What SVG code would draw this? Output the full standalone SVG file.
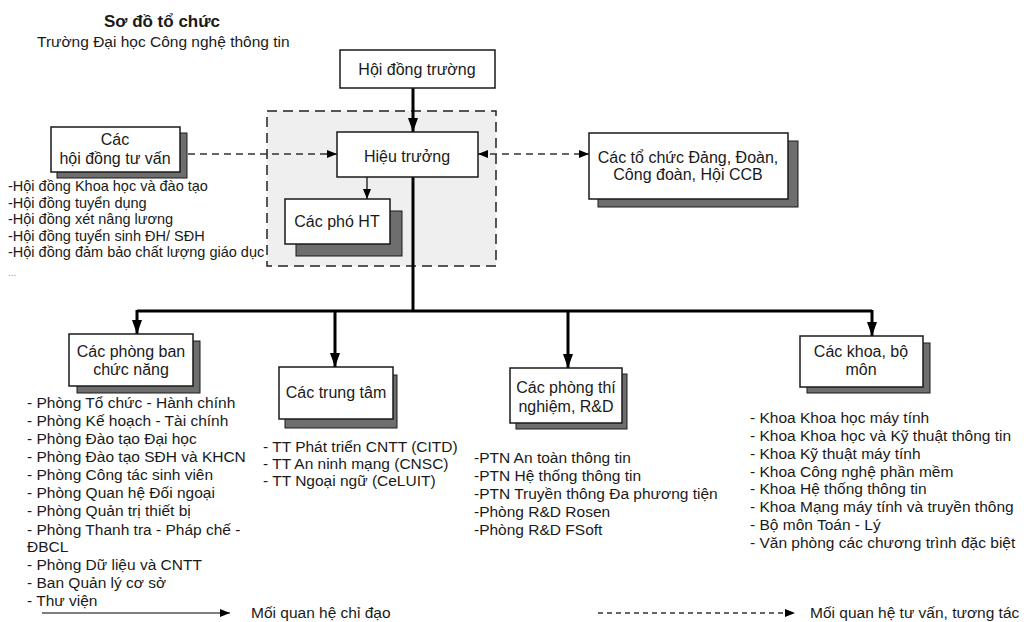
<svg xmlns="http://www.w3.org/2000/svg" width="1024" height="622" viewBox="0 0 1024 622">
<defs>
<style>
text{font-family:"Liberation Sans",Arial,sans-serif;fill:#1a1a1a}
.lbl{font-size:16px;text-anchor:middle}
.lst{font-size:15.5px}
.box{fill:#fff;stroke:#1a1a1a;stroke-width:1.5}
.shd{fill:#6e6e6e;stroke:#1a1a1a;stroke-width:1}
.thick{stroke:#000;stroke-width:3;fill:none}
.thin{stroke:#000;stroke-width:1.2;fill:none}
.dash{stroke:#333;stroke-width:1.3;fill:none;stroke-dasharray:7 5}
</style>
<marker id="ab" markerUnits="userSpaceOnUse" markerWidth="14" markerHeight="10" refX="14" refY="5" orient="auto"><path d="M0,0 L14,5 L0,10 z" fill="#000"/></marker>
<marker id="as" markerUnits="userSpaceOnUse" markerWidth="10" markerHeight="8" refX="10" refY="4" orient="auto-start-reverse"><path d="M0,0 L10,4 L0,8 z" fill="#000"/></marker>
</defs>
<rect width="1024" height="622" fill="#fff"/>

<g id="title">
<text x="162" y="27" style="font-size:17px;font-weight:bold;text-anchor:middle">Sơ đồ tổ chức</text>
<text x="37" y="47" class="lst">Trường Đại học Công nghệ thông tin</text>
</g>

<g id="bgh-region">
<rect x="267" y="111" width="229" height="155" fill="#efefef" stroke="#222" stroke-width="1.5" stroke-dasharray="10 6"/>
</g>

<g id="connectors">
<line class="thick" x1="413" y1="88" x2="413" y2="132" marker-end="url(#ab)"/>
<line class="thin" x1="367" y1="177" x2="367" y2="199" marker-end="url(#as)"/>
<polyline class="thick" points="413,177 413,311"/>
<polyline class="thick" points="137,311 872,311"/>
<line class="thick" x1="137" y1="310" x2="137" y2="334" marker-end="url(#ab)"/>
<line class="thick" x1="335" y1="310" x2="335" y2="367" marker-end="url(#ab)"/>
<line class="thick" x1="568" y1="310" x2="568" y2="368" marker-end="url(#ab)"/>
<line class="thick" x1="872" y1="310" x2="872" y2="336" marker-end="url(#ab)"/>
<line class="dash" x1="188" y1="154" x2="337" y2="154" marker-end="url(#as)"/>
<line class="dash" x1="478" y1="154" x2="589" y2="154" marker-start="url(#as)" marker-end="url(#as)"/>
</g>

<g id="hoi-dong-truong">
<rect class="box" x="340" y="50" width="155" height="38"/>
<text class="lbl" x="417" y="75">Hội đồng trường</text>
</g>

<g id="hieu-truong">
<rect class="box" x="337" y="132" width="141" height="45"/>
<text class="lbl" x="407" y="162">Hiệu trưởng</text>
</g>

<g id="pho-ht">
<rect class="shd" x="296" y="211" width="106" height="45"/>
<rect class="box" x="285" y="199" width="105" height="45"/>
<text class="lbl" x="337" y="227">Các phó HT</text>
</g>

<g id="hoi-dong-tu-van">
<rect class="shd" x="57" y="133" width="130" height="45"/>
<rect class="box" x="51" y="127" width="129" height="45"/>
<text class="lbl" x="115" y="145">Các</text>
<text class="lbl" x="115" y="164">hội đồng tư vấn</text>
<g style="font-size:14.5px">
<text x="8" y="191">-Hội đồng Khoa học và đào tạo</text>
<text x="8" y="208">-Hội đồng tuyển dụng</text>
<text x="8" y="224">-Hội đồng xét nâng lương</text>
<text x="8" y="241">-Hội đồng tuyển sinh ĐH/ SĐH</text>
<text x="8" y="257">-Hội đồng đảm bảo chất lượng giáo dục</text>
<text x="8" y="276" style="font-size:10px;fill:#999">...</text>
</g>
</g>

<g id="to-chuc-dang">
<rect class="shd" x="598" y="141" width="200" height="66"/>
<rect class="box" x="589" y="133" width="199" height="66"/>
<text class="lbl" x="688" y="163">Các tổ chức Đảng, Đoàn,</text>
<text class="lbl" x="688" y="180">Công đoàn, Hội CCB</text>
</g>

<g id="phong-ban">
<rect class="shd" x="77" y="341" width="123" height="52"/>
<rect class="box" x="69" y="334" width="124" height="52"/>
<text class="lbl" x="131" y="357">Các phòng ban</text>
<text class="lbl" x="131" y="375">chức năng</text>
<g class="lst">
<text x="27" y="408">- Phòng Tổ chức - Hành chính</text>
<text x="27" y="426">- Phòng Kế hoạch - Tài chính</text>
<text x="27" y="444">- Phòng Đào tạo Đại học</text>
<text x="27" y="462">- Phòng Đào tạo SĐH và KHCN</text>
<text x="27" y="480">- Phòng Công tác sinh viên</text>
<text x="27" y="498">- Phòng Quan hệ Đối ngoại</text>
<text x="27" y="516">- Phòng Quản trị thiết bị</text>
<text x="27" y="535">- Phòng Thanh tra - Pháp chế -</text>
<text x="27" y="552">ĐBCL</text>
<text x="27" y="570">- Phòng Dữ liệu và CNTT</text>
<text x="27" y="588">- Ban Quản lý cơ sở</text>
<text x="27" y="606">- Thư viện</text>
</g>
</g>

<g id="trung-tam">
<rect class="shd" x="285" y="375" width="112" height="53"/>
<rect class="box" x="279" y="367" width="114" height="52"/>
<text class="lbl" x="336" y="398">Các trung tâm</text>
<g class="lst">
<text x="263" y="452">- TT Phát triển CNTT (CITD)</text>
<text x="263" y="469">- TT An ninh mạng (CNSC)</text>
<text x="263" y="486">- TT Ngoại ngữ (CeLUIT)</text>
</g>
</g>

<g id="phong-thi-nghiem">
<rect class="shd" x="516" y="374" width="111" height="55"/>
<rect class="box" x="510" y="368" width="112" height="55"/>
<text class="lbl" x="566" y="393">Các phòng thí</text>
<text class="lbl" x="566" y="412">nghiệm, R&amp;D</text>
<g class="lst">
<text x="474" y="463">-PTN An toàn thông tin</text>
<text x="474" y="481">-PTN Hệ thống thông tin</text>
<text x="474" y="499">-PTN Truyền thông Đa phương tiện</text>
<text x="474" y="517">-Phòng R&amp;D Rosen</text>
<text x="474" y="535">-Phòng R&amp;D FSoft</text>
</g>
</g>

<g id="khoa-bo-mon">
<rect class="shd" x="807" y="343" width="123" height="50"/>
<rect class="box" x="800" y="336" width="123" height="51"/>
<text class="lbl" x="861" y="357">Các khoa, bộ</text>
<text class="lbl" x="861" y="375">môn</text>
<g class="lst">
<text x="750" y="423">- Khoa Khoa học máy tính</text>
<text x="750" y="441">- Khoa Khoa học và Kỹ thuật thông tin</text>
<text x="750" y="459">- Khoa Kỹ thuật máy tính</text>
<text x="750" y="477">- Khoa Công nghệ phần mềm</text>
<text x="750" y="494">- Khoa Hệ thống thông tin</text>
<text x="750" y="512">- Khoa Mạng máy tính và truyền thông</text>
<text x="750" y="530">- Bộ môn Toán - Lý</text>
<text x="750" y="548">- Văn phòng các chương trình đặc biệt</text>
</g>
</g>

<g id="legend">
<line class="thin" x1="42" y1="613" x2="230" y2="613" marker-end="url(#as)"/>
<text class="lst" x="251" y="618">Mối quan hệ chỉ đạo</text>
<line class="dash" x1="598" y1="613" x2="795" y2="613" marker-end="url(#as)" style="stroke-dasharray:5 4"/>
<text class="lst" x="810" y="618">Mối quan hệ tư vấn, tương tác</text>
</g>
</svg>
